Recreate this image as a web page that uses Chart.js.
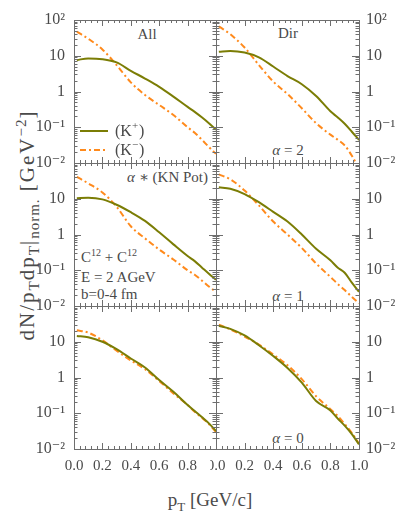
<!DOCTYPE html>
<html>
<head>
<meta charset="utf-8">
<script src="https://cdn.jsdelivr.net/npm/chart.js@4/dist/chart.umd.min.js"></script>
<style>
  html, body { margin: 0; padding: 0; background: #fff; }
  #wrap { position: relative; width: 415px; height: 513px; overflow: hidden; font-family: 'Liberation Serif', 'DejaVu Serif', serif; color: #4a4a4a; }
  #wrap canvas { position: absolute; }
  .note { position: absolute; white-space: nowrap; font-size: 15px; line-height: 1; }
  .note sup, .note sub { font-size: 10px; line-height: 0; }
  .ytitle { position: absolute; left: 27px; top: 225px; font-size: 21px; letter-spacing: 2px; white-space: nowrap; transform: translate(-50%, -50%) rotate(-90deg); }
  .xtitle { position: absolute; left: 210px; top: 500px; font-size: 19px; white-space: nowrap; transform: translate(-50%, -50%); }
  .ytitle sub, .ytitle sup { font-size: 15px; line-height: 0; letter-spacing: 1px; }
  .xtitle sub { font-size: 13px; line-height: 0; }
</style>
</head>
<body>
<div id="wrap">
  <div class="ytitle">dN/p<sub>T</sub>dp<sub>T</sub>|<sub>norm.</sub> [GeV<sup>−2</sup>]</div>
  <div class="xtitle">p<sub>T</sub> [GeV/c]</div>
</div>
<script>
// transverse momentum grid (GeV/c), shared by all six panels
const pT = [0.02, 0.1, 0.2, 0.3, 0.4, 0.5, 0.6, 0.7, 0.8, 0.85, 0.9, 0.95, 1.0];

// values, per panel
const allKp = [7.6, 8.4, 8.0, 6.5, 3.8, 2.3, 1.35, 0.72, 0.37, 0.27, 0.19, 0.13, 0.085];
const allKm = [47, 30, 15, 5.5, 1.8, 0.8, 0.42, 0.22, 0.1, 0.07, 0.045, 0.028, 0.018];
const dirKp = [12.9, 13.6, 12.3, 9.0, 5.0, 2.7, 1.6, 0.75, 0.28, 0.19, 0.125, 0.075, 0.044];
const dirKm = [66, 40, 17, 5.5, 1.9, 0.85, 0.34, 0.13, 0.062, 0.045, 0.031, 0.016, 0.007];
const knKp = [10.3, 10.6, 9.6, 6.8, 4.2, 2.4, 1.15, 0.53, 0.25, 0.18, 0.12, 0.08, 0.054];
const knKm = [41, 27, 15, 6.0, 1.7, 0.78, 0.38, 0.2, 0.1, 0.075, 0.052, 0.035, 0.025];
const a1Kp = [21, 19, 13.5, 8.0, 4.3, 2.3, 1.0, 0.4, 0.19, 0.12, 0.085, 0.045, 0.025];
const a1Km = [48, 35, 17, 6.5, 2.3, 1.0, 0.42, 0.155, 0.065, 0.042, 0.028, 0.018, 0.012];
const a0lKp = [14.5, 13.3, 10, 6.2, 3.4, 1.9, 0.85, 0.4, 0.17, 0.115, 0.078, 0.052, 0.032];
const a0lKm = [21, 18, 11, 5.6, 3.0, 1.7, 0.8, 0.36, 0.17, 0.11, 0.075, 0.05, 0.03];
const a0rKp = [28, 23, 15, 8.0, 4.0, 1.85, 0.72, 0.22, 0.12, 0.072, 0.045, 0.026, 0.0135];
const a0rKm = [30, 22, 14, 8.3, 4.4, 2.2, 0.9, 0.3, 0.13, 0.085, 0.05, 0.028, 0.014];

const xTicks = [0, 0.2, 0.4, 0.6, 0.8, 1.0];
const yTicks = [0.01, 0.1, 1, 10, 100];
const yTickText = { '-2': '10⁻²', '-1': '10⁻¹', '0': '1', '1': '10', '2': '10²' };

const OLIVE = '#7b7d05';
const ORANGE = '#ff8a1c';
const FRAME = '#6e6e6e';
const TEXT = '#4a4a4a';
const FONT = "'Liberation Serif', 'DejaVu Serif', serif";

// plot area geometry of the 2x3 grid
const colLeft = [74, 216];
const colWidth = [142, 143];
const rowTop = [20, 163, 306];
const rowHeight = 143;

const panels = [
  { col: 0, row: 0, kp: allKp, km: allKm, legend: true },
  { col: 1, row: 0, kp: dirKp, km: dirKm },
  { col: 0, row: 1, kp: knKp, km: knKm },
  { col: 1, row: 1, kp: a1Kp, km: a1Km },
  { col: 0, row: 2, kp: a0lKp, km: a0lKm },
  { col: 1, row: 2, kp: a0rKp, km: a0rKm }
];

const notes = [
  { x: 147, y: 34, html: 'All', align: 'center' },
  { x: 288, y: 33, html: 'Dir', align: 'center' },
  { x: 288, y: 150, html: '<i>α</i> = 2', align: 'center' },
  { x: 208, y: 177, html: '<i>α</i> ∗ (KN Pot)', align: 'right' },
  { x: 81, y: 257, html: 'C<sup>12</sup> + C<sup>12</sup>', align: 'left' },
  { x: 81, y: 277, html: 'E = 2 AGeV', align: 'left' },
  { x: 81, y: 294, html: 'b=0-4 fm', align: 'left' },
  { x: 288, y: 296, html: '<i>α</i> = 1', align: 'center' },
  { x: 288, y: 438, html: '<i>α</i> = 0', align: 'center' }
];

const wrap = document.getElementById('wrap');
notes.forEach((n) => {
  const el = document.createElement('div');
  el.className = 'note';
  el.innerHTML = n.html;
  el.style.left = n.x + 'px';
  el.style.top = n.y + 'px';
  const tx = n.align === 'center' ? '-50%' : n.align === 'right' ? '-100%' : '0';
  el.style.transform = `translate(${tx}, -50%)`;
  wrap.appendChild(el);
});

// frame with inward major/minor ticks on all four sides
const frameTicks = {
  id: 'frameTicks',
  afterDatasetsDraw(chart) {
    const { ctx, chartArea: a, scales: { x, y } } = chart;
    ctx.save();
    ctx.strokeStyle = FRAME;
    ctx.lineWidth = 1;
    ctx.strokeRect(Math.round(a.left) + 0.5, Math.round(a.top) + 0.5, Math.round(a.right - a.left), Math.round(a.bottom - a.top));
    ctx.beginPath();
    for (let i = 0; i <= 25; i++) {
      const px = Math.round(x.getPixelForValue(i / 25)) + 0.5;
      const len = i % 5 === 0 ? 6 : 3;
      ctx.moveTo(px, a.bottom); ctx.lineTo(px, a.bottom - len);
      ctx.moveTo(px, a.top); ctx.lineTo(px, a.top + len);
    }
    for (let d = -2; d <= 1; d++) {
      for (let m = 1; m <= 9; m++) {
        const py = Math.round(y.getPixelForValue(m * Math.pow(10, d))) + 0.5;
        const len = m === 1 ? 7 : 3.5;
        ctx.moveTo(a.left, py); ctx.lineTo(a.left + len, py);
        ctx.moveTo(a.right, py); ctx.lineTo(a.right - len, py);
      }
    }
    ctx.stroke();
    ctx.restore();
  }
};

// small legend inside the first panel, styled from the datasets
const innerLegend = {
  id: 'innerLegend',
  afterDraw(chart) {
    if (!chart.options.plugins.innerLegend?.show) return;
    const { ctx, chartArea: a } = chart;
    const sets = chart.data.datasets;
    const rows = [{ ds: sets[0], sign: '+', y: a.top + 111 }, { ds: sets[1], sign: '−', y: a.top + 130 }];
    ctx.save();
    rows.forEach((r) => {
      ctx.strokeStyle = r.ds.borderColor;
      ctx.lineWidth = r.ds.borderWidth;
      ctx.setLineDash(r.ds.borderDash || []);
      ctx.beginPath();
      ctx.moveTo(a.left + 6, r.y);
      ctx.lineTo(a.left + 34, r.y);
      ctx.stroke();
      ctx.setLineDash([]);
      ctx.fillStyle = TEXT;
      ctx.textBaseline = 'middle';
      ctx.font = `16px ${FONT}`;
      let tx = a.left + 41;
      ctx.fillText('(K', tx, r.y + 1);
      tx += ctx.measureText('(K').width;
      ctx.font = `11px ${FONT}`;
      ctx.fillText(r.sign, tx, r.y - 5);
      tx += ctx.measureText(r.sign).width + 1;
      ctx.font = `16px ${FONT}`;
      ctx.fillText(')', tx, r.y + 1);
    });
    ctx.restore();
  }
};

panels.forEach((p) => {
  const padL = p.col === 0 ? 74 : 6;
  const padR = p.col === 0 ? 6 : 56;
  const padT = 12;
  const padB = p.row === 2 ? 40 : 10;
  const canvas = document.createElement('canvas');
  const w = colWidth[p.col] + padL + padR;
  const h = rowHeight + padT + padB;
  canvas.width = w; canvas.height = h;
  canvas.style.width = w + 'px'; canvas.style.height = h + 'px';
  canvas.style.left = (colLeft[p.col] - padL) + 'px';
  canvas.style.top = (rowTop[p.row] - padT) + 'px';
  wrap.appendChild(canvas);

  const rowTicks = p.row === 0 ? yTicks : yTicks.filter((v) => v < 50);
  const showX = p.row === 2;

  new Chart(canvas, {
    type: 'line',
    data: {
      datasets: [
        { label: '(K+)', data: pT.map((x, i) => ({ x, y: p.kp[i] })), borderColor: OLIVE, borderWidth: 2, pointRadius: 0, cubicInterpolationMode: 'monotone' },
        { label: '(K−)', data: pT.map((x, i) => ({ x, y: p.km[i] })), borderColor: ORANGE, borderWidth: 2, borderDash: [6, 3, 2, 3], pointRadius: 0, cubicInterpolationMode: 'monotone' }
      ]
    },
    options: {
      responsive: false,
      animation: false,
      devicePixelRatio: 1,
      layout: { padding: { top: padT, bottom: showX ? 0 : padB, left: p.col === 1 ? padL : 0, right: p.col === 0 ? padR : 0 } },
      plugins: { legend: { display: false }, tooltip: { enabled: false }, innerLegend: { show: !!p.legend } },
      scales: {
        x: {
          type: 'linear', min: 0, max: 1,
          display: showX,
          afterBuildTicks: (s) => { s.ticks = xTicks.map((v) => ({ value: v })); },
          afterFit: (s) => { s.height = showX ? padB : 0; s.paddingLeft = 0; s.paddingRight = 0; },
          grid: { display: false, drawTicks: false },
          border: { display: false },
          ticks: {
            padding: 8, color: TEXT, font: { family: FONT, size: 15 }, maxRotation: 0,
            callback: (v) => (p.col === 0 && v > 0.99 ? '' : Number(v).toFixed(1))
          }
        },
        y: {
          type: 'logarithmic', min: 0.01, max: 100,
          position: p.col === 0 ? 'left' : 'right',
          afterBuildTicks: (s) => { s.ticks = rowTicks.map((v) => ({ value: v })); },
          afterFit: (s) => { s.width = p.col === 0 ? padL : padR; s.paddingTop = 0; s.paddingBottom = 0; },
          grid: { display: false, drawTicks: false },
          border: { display: false },
          ticks: {
            padding: p.col === 0 ? 9 : 7, color: TEXT, font: { family: FONT, size: 16 },
            callback: (v) => yTickText[String(Math.round(Math.log10(v)))]
          }
        }
      }
    },
    plugins: [frameTicks, innerLegend]
  });
});
</script>
</body>
</html>
